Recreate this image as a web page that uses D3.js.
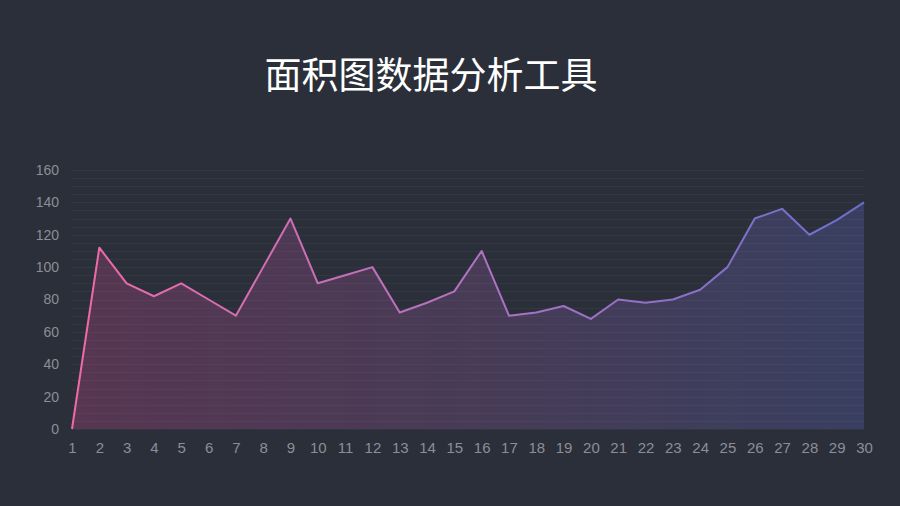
<!DOCTYPE html>
<html>
<head>
<meta charset="utf-8">
<script src="https://cdn.jsdelivr.net/npm/d3@7"></script>
<style>
  body { margin: 0; background: #2b2f3a; }
  svg { display: block; }
  .axis text { fill: #8b8e97; font-family: "Liberation Sans", Arial, sans-serif; font-size: 14px; }
  .axis path, .axis line { display: none; }
</style>
</head>
<body>
<div id="chart"></div>
<script>
// data
var days = d3.range(1, 31);
var values = [0, 112, 90, 82, 90, 80, 70, 100, 130, 90,
              95, 100, 72, 78, 85, 110, 70, 72, 76, 68,
              80, 78, 80, 86, 100, 130, 136, 120, 129, 140];
var yTicks = [0, 20, 40, 60, 80, 100, 120, 140, 160];
var title = "面积图数据分析工具";

var width = 900, height = 506;
var margin = { top: 170, right: 36, bottom: 77, left: 72 };
var chartWidth = width - margin.left - margin.right;
var chartHeight = height - margin.top - margin.bottom;

var svg = d3.select("#chart").append("svg")
    .attr("width", width)
    .attr("height", height);

svg.append("rect")
    .attr("width", width)
    .attr("height", height)
    .attr("fill", "#2b2f3a");

svg.append("text")
    .attr("x", 431)
    .attr("y", 89)
    .attr("text-anchor", "middle")
    .attr("fill", "#ffffff")
    .style("font-family", "'Noto Sans CJK SC', sans-serif")
    .style("font-size", "37px")
    .text(title);

var chartGroup = svg.append("g")
    .attr("transform", `translate(${margin.left}, ${margin.top})`);

var xScale = d3.scaleLinear()
    .domain([1, 30])
    .range([0, chartWidth]);

var yScale = d3.scaleLinear()
    .domain([0, 160])
    .range([chartHeight, 0]);

// gradients
var defs = svg.append("defs");
var lineGrad = defs.append("linearGradient")
    .attr("id", "lineGrad")
    .attr("gradientUnits", "userSpaceOnUse")
    .attr("x1", 0).attr("x2", chartWidth).attr("y1", 0).attr("y2", 0);
lineGrad.append("stop").attr("offset", "0%").attr("stop-color", "#f06aa6");
lineGrad.append("stop").attr("offset", "50%").attr("stop-color", "#b172c0");
lineGrad.append("stop").attr("offset", "100%").attr("stop-color", "#6b6fcc");

var areaGrad = defs.append("linearGradient")
    .attr("id", "areaGrad")
    .attr("gradientUnits", "userSpaceOnUse")
    .attr("x1", 0).attr("x2", chartWidth).attr("y1", 0).attr("y2", 0);
areaGrad.append("stop").attr("offset", "0%").attr("stop-color", "#8c3f6e");
areaGrad.append("stop").attr("offset", "50%").attr("stop-color", "#6a4a78");
areaGrad.append("stop").attr("offset", "100%").attr("stop-color", "#4a528f");

var area = d3.area()
    .x((d, i) => xScale(days[i]))
    .y0(yScale(0))
    .y1(d => yScale(d));

chartGroup.append("path")
    .datum(values)
    .attr("d", area)
    .attr("fill", "url(#areaGrad)")
    .attr("opacity", 0.45);

// faint gridlines every 5 units
chartGroup.append("g")
    .selectAll("line")
    .data(d3.range(0, 161, 5))
    .enter()
    .append("line")
    .attr("x1", 0)
    .attr("x2", chartWidth)
    .attr("y1", d => Math.round(yScale(d)) + 0.5)
    .attr("y2", d => Math.round(yScale(d)) + 0.5)
    .attr("stroke", "#ffffff")
    .attr("stroke-opacity", 0.04);

var line = d3.line()
    .x((d, i) => xScale(days[i]))
    .y(d => yScale(d));

chartGroup.append("path")
    .datum(values)
    .attr("d", line)
    .attr("fill", "none")
    .attr("stroke", "url(#lineGrad)")
    .attr("stroke-width", 2)
    .attr("stroke-linejoin", "round");

chartGroup.append("g")
    .classed("axis", true)
    .call(d3.axisLeft(yScale).tickValues(yTicks).tickSize(0).tickPadding(13));

chartGroup.append("g")
    .classed("axis", true)
    .attr("transform", "translate(0, " + chartHeight + ")")
    .call(d3.axisBottom(xScale).tickValues(days).tickFormat(d3.format("d")).tickSize(0).tickPadding(13))
    .selectAll("text")
    .style("font-size", "15px");
</script>
</body>
</html>
